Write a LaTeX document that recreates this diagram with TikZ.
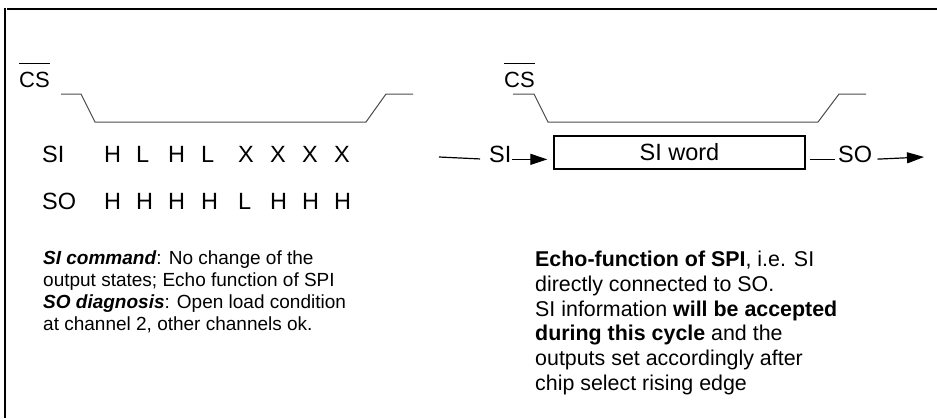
\documentclass[tikz,border=0pt]{standalone}
\usepackage{fontspec}
\setmainfont{Liberation Sans}
\usetikzlibrary{arrows.meta}

\tikzset{
  wave/.style={draw=black!70, line width=1pt},
  sig/.style={font=\fontsize{23.5}{27}\selectfont, inner sep=0pt},
  csname/.style={font=\fontsize{22}{26}\selectfont, inner sep=0pt, anchor=base west},
  flow/.style={line width=1.2pt},
  flowarrow/.style={flow, -{Triangle[length=17pt,width=11pt]}},
  note/.style={align=left, inner sep=0pt, anchor=north west},
}

\begin{document}
\begin{tikzpicture}[x=1pt,y=-1pt]
  \useasboundingbox (0,0) rectangle (937,418);
  % frame
  \draw[line width=2pt] (7,8.5) -- (937,8.5);
  \draw[line width=2pt] (5,8) -- (5,418);

  % left: chip select and bit words
  \node[csname] (csA) at (19,87) {CS};
  \draw[line width=1.2pt] ([yshift=8pt]csA.north west) -- ([yshift=8pt]csA.north east);
  \draw[wave] (61,94) -- (81,94) -- (95,122) -- (366,122) -- (386,94) -- (413,94);
  \node[sig, anchor=base west] (siA) at (42,162) {SI};
  \node[sig, anchor=base west] (soA) at (42,209) {SO};
  \foreach \x\a\b in {104/H/H,136/L/H,168/H/H,201/L/H,238/X/L,270/X/H,302/X/H,334/X/H}{
    \node[sig, anchor=base west] at (\x,162) {\a};
    \node[sig, anchor=base west] at (\x,209) {\b};
  }

  % right: echo path
  \node[csname] (csB) at (504,87) {CS};
  \draw[line width=1.2pt] ([yshift=8pt]csB.north west) -- ([yshift=8pt]csB.north east);
  \draw[wave] (513,94) -- (534,94) -- (548,122) -- (818,122) -- (839,94) -- (866,94);
  \node[sig, draw, line width=1.3pt, minimum width=251pt, minimum height=33pt] (word) at (679.5,152.5) {SI word};
  \coordinate (siStart) at (439,157);
  \coordinate (soEnd) at (924,157);
  \node[sig, anchor=base west] (siB) at (489,162) {SI};
  \node[sig, anchor=base west] (soB) at (838,162) {SO};
  \draw[flow, shorten >=9pt] (siStart) -- (siB.mid west);
  \draw[flowarrow, shorten >=6pt] (siB.mid east) -- (siB.mid east -| word.west);
  \draw[flow, shorten <=4pt, shorten >=3pt] (word.east |- soB.mid west) -- (soB.mid west);
  \draw[flowarrow, shorten <=5pt] (soB.mid east) -- (soEnd);

  % notes
  \node[note, font=\fontsize{19}{22}\selectfont] (noteA) at (43,251)
    {\textbf{\textit{SI command}}: No change of the\\
     output states; Echo function of SPI\\
     \textbf{\textit{SO diagnosis}}: Open load condition\\
     at channel 2, other channels ok.};
  \node[note, font=\fontsize{21.4}{24.7}\selectfont] (noteB) at (535,251)
    {\textbf{Echo-function of SPI}, i.e. SI\\
     directly connected to SO.\\
     SI information \textbf{will be accepted}\\
     \textbf{during this cycle} and the\\
     outputs set accordingly after\\
     chip select rising edge};
\end{tikzpicture}
\end{document}
